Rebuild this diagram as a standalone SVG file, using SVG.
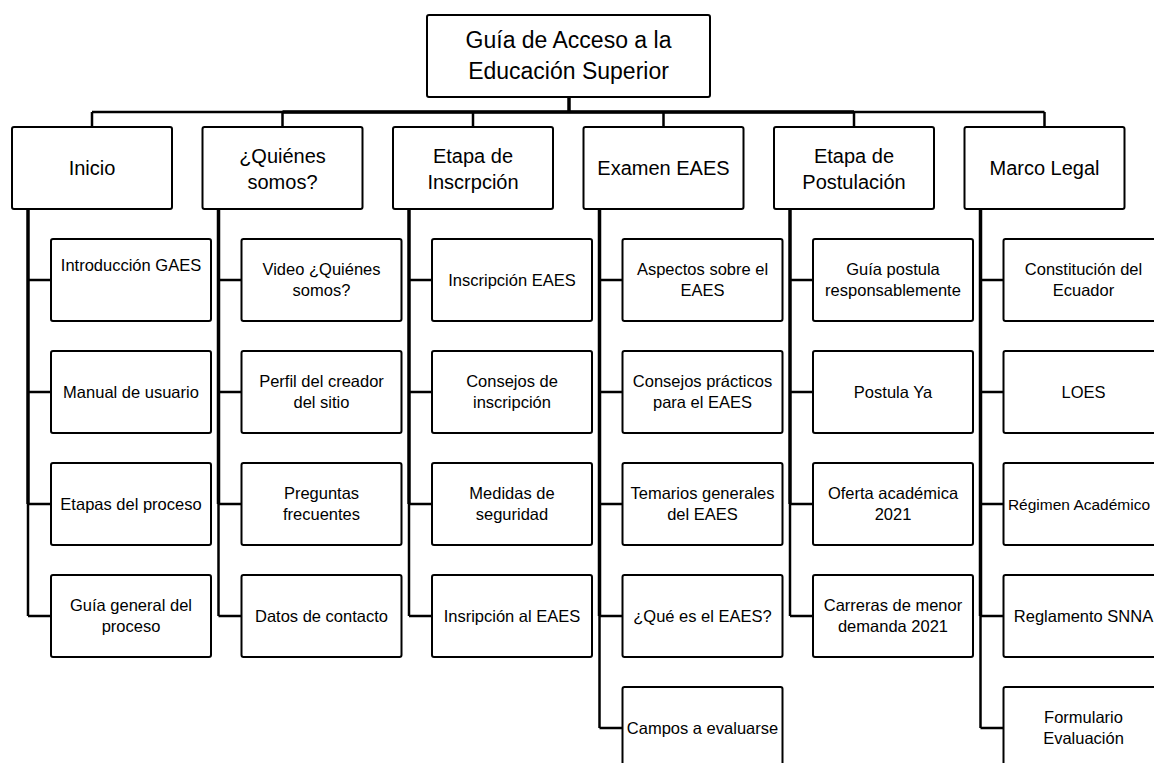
<svg xmlns="http://www.w3.org/2000/svg" width="1154" height="763" viewBox="0 0 1154 763">
<style>
.box{fill:#fff;stroke:#000;stroke-width:2}
.c{fill:none;stroke:#000;stroke-width:2.5}
.ct{fill:none;stroke:#000;stroke-width:3.5}
text{font-family:"Liberation Sans",Arial,sans-serif;fill:#000;text-anchor:middle}
.t0{font-size:23px}
.t1{font-size:20px}
.t2{font-size:16.5px}
</style>
<rect width="1154" height="763" fill="#fff"/>
<g id="connectors">
<path class="ct" d="M569 97V112"/>
<path class="c" d="M92 112H1044.5"/>
<path class="ct" d="M282.5 112H854"/>
<path class="c" d="M92 112V127M282.5 112V127M473 112V127M663.5 112V127M854 112V127M1044.5 112V127"/>
<path class="ct" d="M28 209V504"/><path class="c" d="M28 504V616"/>
<path class="c" d="M28 280H51M28 392H51M28 504H51M28 616H51"/>
<path class="ct" d="M218.5 209V504"/><path class="c" d="M218.5 504V616"/>
<path class="c" d="M218.5 280H241.5M218.5 392H241.5M218.5 504H241.5M218.5 616H241.5"/>
<path class="ct" d="M409 209V504"/><path class="c" d="M409 504V616"/>
<path class="c" d="M409 280H432M409 392H432M409 504H432M409 616H432"/>
<path class="ct" d="M599.5 209V616"/><path class="c" d="M599.5 616V728"/>
<path class="c" d="M599.5 280H622.5M599.5 392H622.5M599.5 504H622.5M599.5 616H622.5M599.5 728H622.5"/>
<path class="ct" d="M790 209V504"/><path class="c" d="M790 504V616"/>
<path class="c" d="M790 280H813M790 392H813M790 504H813M790 616H813"/>
<path class="ct" d="M980.5 209V616"/><path class="c" d="M980.5 616V728"/>
<path class="c" d="M980.5 280H1003.5M980.5 392H1003.5M980.5 504H1003.5M980.5 616H1003.5M980.5 728H1003.5"/>
</g>
<g id="root"><rect class="box" x="427" y="15" width="283" height="82" rx="2"/>
<text class="t0" x="568.5" y="48">Guía de Acceso a la</text><text class="t0" x="568.5" y="79">Educación Superior</text></g>

<g id="inicio"><rect class="box" x="12" y="127" width="160" height="82" rx="2"/><text class="t1" x="92" y="175">Inicio</text></g>
<g id="quienes"><rect class="box" x="202.5" y="127" width="160" height="82" rx="2"/><text class="t1" x="282.5" y="163">¿Quiénes</text><text class="t1" x="282.5" y="189">somos?</text></g>
<g id="inscripcion"><rect class="box" x="393" y="127" width="160" height="82" rx="2"/><text class="t1" x="473" y="163">Etapa de</text><text class="t1" x="473" y="189">Inscrpción</text></g>
<g id="examen"><rect class="box" x="583.5" y="127" width="160" height="82" rx="2"/><text class="t1" x="663.5" y="175">Examen EAES</text></g>
<g id="postulacion"><rect class="box" x="774" y="127" width="160" height="82" rx="2"/><text class="t1" x="854" y="163">Etapa de</text><text class="t1" x="854" y="189">Postulación</text></g>
<g id="marco"><rect class="box" x="964.5" y="127" width="160" height="82" rx="2"/><text class="t1" x="1044.5" y="175">Marco Legal</text></g>

<g id="inicio-1"><rect class="box" x="51" y="239" width="160" height="82" rx="2"/><text class="t2" x="131" y="271">Introducción GAES</text></g>
<g id="inicio-2"><rect class="box" x="51" y="351" width="160" height="82" rx="2"/><text class="t2" x="131" y="397.5">Manual de usuario</text></g>
<g id="inicio-3"><rect class="box" x="51" y="463" width="160" height="82" rx="2"/><text class="t2" x="131" y="509.5">Etapas del proceso</text></g>
<g id="inicio-4"><rect class="box" x="51" y="575" width="160" height="82" rx="2"/><text class="t2" x="131" y="611">Guía general del</text><text class="t2" x="131" y="631.5">proceso</text></g>

<g id="quienes-1"><rect class="box" x="241.5" y="239" width="160" height="82" rx="2"/><text class="t2" x="321.5" y="275">Video ¿Quiénes</text><text class="t2" x="321.5" y="295.5">somos?</text></g>
<g id="quienes-2"><rect class="box" x="241.5" y="351" width="160" height="82" rx="2"/><text class="t2" x="321.5" y="387">Perfil del creador</text><text class="t2" x="321.5" y="407.5">del sitio</text></g>
<g id="quienes-3"><rect class="box" x="241.5" y="463" width="160" height="82" rx="2"/><text class="t2" x="321.5" y="499">Preguntas</text><text class="t2" x="321.5" y="519.5">frecuentes</text></g>
<g id="quienes-4"><rect class="box" x="241.5" y="575" width="160" height="82" rx="2"/><text class="t2" x="321.5" y="621.5">Datos de contacto</text></g>

<g id="inscripcion-1"><rect class="box" x="432" y="239" width="160" height="82" rx="2"/><text class="t2" x="512" y="285.5">Inscripción EAES</text></g>
<g id="inscripcion-2"><rect class="box" x="432" y="351" width="160" height="82" rx="2"/><text class="t2" x="512" y="387">Consejos de</text><text class="t2" x="512" y="407.5">inscripción</text></g>
<g id="inscripcion-3"><rect class="box" x="432" y="463" width="160" height="82" rx="2"/><text class="t2" x="512" y="499">Medidas de</text><text class="t2" x="512" y="519.5">seguridad</text></g>
<g id="inscripcion-4"><rect class="box" x="432" y="575" width="160" height="82" rx="2"/><text class="t2" x="512" y="621.5">Insripción al EAES</text></g>

<g id="examen-1"><rect class="box" x="622.5" y="239" width="160" height="82" rx="2"/><text class="t2" x="702.5" y="275">Aspectos sobre el</text><text class="t2" x="702.5" y="295.5">EAES</text></g>
<g id="examen-2"><rect class="box" x="622.5" y="351" width="160" height="82" rx="2"/><text class="t2" x="702.5" y="387">Consejos prácticos</text><text class="t2" x="702.5" y="407.5">para el EAES</text></g>
<g id="examen-3"><rect class="box" x="622.5" y="463" width="160" height="82" rx="2"/><text class="t2" x="702.5" y="499">Temarios generales</text><text class="t2" x="702.5" y="519.5">del EAES</text></g>
<g id="examen-4"><rect class="box" x="622.5" y="575" width="160" height="82" rx="2"/><text class="t2" x="702.5" y="621.5">¿Qué es el EAES?</text></g>
<g id="examen-5"><rect class="box" x="622.5" y="687" width="160" height="82" rx="2"/><text class="t2" x="702.5" y="733.5">Campos a evaluarse</text></g>

<g id="postulacion-1"><rect class="box" x="813" y="239" width="160" height="82" rx="2"/><text class="t2" x="893" y="275">Guía postula</text><text class="t2" x="893" y="295.5">responsablemente</text></g>
<g id="postulacion-2"><rect class="box" x="813" y="351" width="160" height="82" rx="2"/><text class="t2" x="893" y="397.5">Postula Ya</text></g>
<g id="postulacion-3"><rect class="box" x="813" y="463" width="160" height="82" rx="2"/><text class="t2" x="893" y="499">Oferta académica</text><text class="t2" x="893" y="519.5">2021</text></g>
<g id="postulacion-4"><rect class="box" x="813" y="575" width="160" height="82" rx="2"/><text class="t2" x="893" y="611">Carreras de menor</text><text class="t2" x="893" y="631.5">demanda 2021</text></g>

<g id="marco-1"><rect class="box" x="1003.5" y="239" width="160" height="82" rx="2"/><text class="t2" x="1083.5" y="275">Constitución del</text><text class="t2" x="1083.5" y="295.5">Ecuador</text></g>
<g id="marco-2"><rect class="box" x="1003.5" y="351" width="160" height="82" rx="2"/><text class="t2" x="1083.5" y="397.5">LOES</text></g>
<g id="marco-3"><rect class="box" x="1003.5" y="463" width="160" height="82" rx="2"/><text class="t2" x="1079" y="509.5" style="font-size:15.5px">Régimen Académico</text></g>
<g id="marco-4"><rect class="box" x="1003.5" y="575" width="160" height="82" rx="2"/><text class="t2" x="1083.5" y="621.5">Reglamento SNNA</text></g>
<g id="marco-5"><rect class="box" x="1003.5" y="687" width="160" height="82" rx="2"/><text class="t2" x="1083.5" y="723">Formulario</text><text class="t2" x="1083.5" y="743.5">Evaluación</text></g>
</svg>
